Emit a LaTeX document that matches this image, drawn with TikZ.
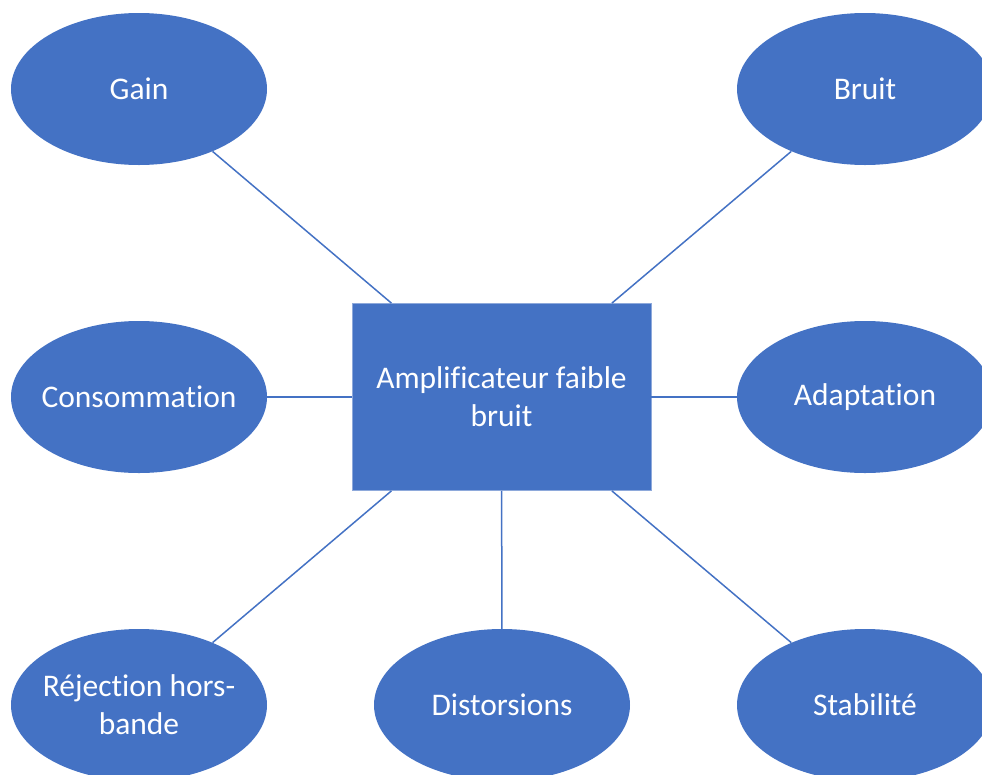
\documentclass[tikz,border=0pt]{standalone}
\usepackage{fontspec}
\setmainfont{Carlito}[RawFeature={-liga}]
\usepackage{tikz}
\usetikzlibrary{shapes.geometric}
\definecolor{BlockBlue}{HTML}{4472C4}
\definecolor{EdgeBlue}{HTML}{8EA9DB}
\tikzset{
  featureNode/.style={ellipse,fill=BlockBlue,text=white,minimum width=256pt,minimum height=152pt,inner xsep=-14pt,inner ysep=0pt,align=center,font=\fontsize{31.5}{38}\selectfont},
  hubNode/.style={rectangle,fill=BlockBlue,draw=EdgeBlue,line width=0.8pt,text=white,minimum width=299pt,minimum height=187pt,inner sep=0pt,align=center,font=\fontsize{31.5}{38}\selectfont},
  linkLine/.style={draw=BlockBlue,line width=1.5pt}
}

\begin{document}
\begin{tikzpicture}[x=1pt,y=-1pt]
  \clip (0,0) rectangle (982,774);
  \node[hubNode] (lna) at (501.5,397){Amplificateur faible\\bruit};
  \node[featureNode] (gain) at (139,89){Gain};
  \node[featureNode] (noise) at (865,89){Bruit};
  \node[featureNode] (power) at (139,397){Consommation};
  \node[featureNode] (match) at (865,397){Adaptation};
  \node[featureNode] (reject) at (139,705){Réjection hors-\\bande};
  \node[featureNode] (distort) at (502,705){Distorsions};
  \node[featureNode] (stab) at (865,705){Stabilité};
  \draw[linkLine] (gain) -- (lna);
  \draw[linkLine] (noise) -- (lna);
  \draw[linkLine] (power) -- (lna);
  \draw[linkLine] (match) -- (lna);
  \draw[linkLine] (reject) -- (lna);
  \draw[linkLine] (distort) -- (lna);
  \draw[linkLine] (stab) -- (lna);
\end{tikzpicture}
\end{document}
